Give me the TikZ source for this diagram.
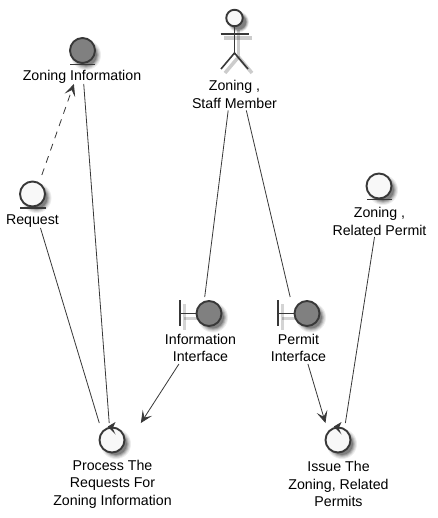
\documentclass[tikz,border=0pt]{standalone}
\usepackage{fontspec}
\setmainfont{Liberation Sans}
\usetikzlibrary{arrows.meta}
\definecolor{ink}{HTML}{383838}
\definecolor{lightfill}{HTML}{F8F8F8}
\definecolor{darkfill}{HTML}{808080}
\newcommand{\softcirc}[3]{%
  \foreach \r/\o in {15/.07,14/.09,13/.12,12/.15,11/.2}{
    \fill[black,opacity=\o] (#1+4,#2+4) circle[radius=\r*#3];}}
\tikzset{
  x=1pt,y=-1pt,
  hitbox/.style={minimum width=#1,inner sep=0pt,outer sep=0pt},
  icon/.style={circle,draw=ink,line width=1.9pt,minimum size=25pt,inner sep=0pt,outer sep=0pt},
  lightc/.style={icon,fill=lightfill},
  darkc/.style={icon,fill=darkfill},
  glyph/.style={draw=ink,line width=1.6pt},
  caption/.style={font=\fontsize{14.2}{17.5}\selectfont,align=center,inner sep=0pt,text=black},
  link/.style={draw=ink,line width=.8pt},
  head/.style={-{Stealth[length=12pt,width=11pt,inset=5.5pt,fill=ink]}},
}
\begin{document}
\begin{tikzpicture}
\useasboundingbox[fill=white] (0,0) rectangle (437,518);

% invisible element boxes, connectors run between their centres
\node[hitbox=116,minimum height=46] (zi) at (82,61) {};
\node[hitbox=54,minimum height=53] (req) at (32.5,201.5) {};
\node[hitbox=85,minimum height=101] (staff) at (234.5,60) {};
\node[hitbox=93,minimum height=64] (rp) at (379.5,205) {};
\node[hitbox=72,minimum height=67] (ii) at (200.5,330.5) {};
\node[hitbox=55,minimum height=67] (pi) at (298,330.5) {};
\node[hitbox=117,minimum height=88] (proc) at (112.5,467) {};
\node[hitbox=100,minimum height=88] (iss) at (338.5,467) {};

% shadows
\softcirc{82}{51}{1}
\softcirc{32.5}{194}{1}
\softcirc{379}{186}{1}
\softcirc{209}{313.5}{1}
\softcirc{307}{313.5}{1}
\softcirc{112}{440}{1}
\softcirc{338}{440}{1}
\softcirc{234.5}{18}{.7}
\foreach \a/\b/\c/\d in {224/38/252/38,238.5/30/238.5/57,238.5/57/225/73,238.5/57/252/73}{
  \draw[black,opacity=.2,line width=3.5pt] (\a,\b) -- (\c,\d);}
\draw[black,opacity=.17,line width=3pt] (184,304) -- (184,330);
\draw[black,opacity=.17,line width=3pt] (184,318) -- (200,318);
\draw[black,opacity=.17,line width=3pt] (282,304) -- (282,330);
\draw[black,opacity=.17,line width=3pt] (282,318) -- (298,318);

% connectors
\draw[link,dashed,dash pattern=on 7pt off 6pt,head] (req) -- (zi);
\draw[link] (zi) -- (proc);
\draw[link] (req) -- (proc);
\draw[link] (staff) -- (ii);
\draw[link] (staff) -- (pi);
\draw[link] (rp) -- (iss);
\draw[link,head] (ii) -- (proc);
\draw[link,head] (pi) -- (iss);

% entities
\node[darkc] (ziI) at (82.5,50.5) {};
\draw[glyph] (70,64.5) -- (95,64.5);
\node[lightc] (reqI) at (32.5,194) {};
\draw[glyph] (20,208) -- (45.5,208);
\node[lightc] (rpI) at (379,186) {};
\draw[glyph] (367,199.5) -- (392,199.5);

% actor
\node[icon,fill=lightfill,minimum size=16.5pt] (head) at (234.5,18) {};
\draw[glyph] (head.south) -- (234.5,53);
\draw[glyph] (220.5,34) -- (248.5,34);
\draw[glyph] (221,69) -- (234.5,53) -- (248,69);

% boundaries
\node[darkc] (iiI) at (209,313.5) {};
\draw[glyph] (180,300) -- (180,326);
\draw[glyph] (180,313.5) -- (iiI.west);
\node[darkc] (piI) at (307,313.5) {};
\draw[glyph] (278,300) -- (278,326);
\draw[glyph] (278,313.5) -- (piI.west);

% controls
\node[lightc] (procI) at (112,440) {};
\fill[ink] (107.8,426.5) -- (115.5,422) -- (112.7,428.3) -- (115.5,434.5) -- cycle;
\node[lightc] (issI) at (338,440) {};
\fill[ink] (333.8,426.5) -- (341.5,422) -- (338.7,428.3) -- (341.5,434.5) -- cycle;

% captions
\node[caption] (ziT) at (82,77) {Zoning Information};
\node[caption] (reqT) at (32.5,221) {Request};
\node[caption] (staffT) at (234.5,94.5) {Zoning ,\\Staff Member};
\node[caption] (rpT) at (379.5,221.5) {Zoning ,\\Related Permit};
\node[caption] (iiT) at (200.5,348) {Information\\Interface};
\node[caption] (piT) at (298.5,348) {Permit\\Interface};
\node[caption] (procT) at (112.5,484) {Process The\\Requests For\\Zoning Information};
\node[caption] (issT) at (338.5,484) {Issue The\\Zoning, Related\\Permits};
\end{tikzpicture}
\end{document}
